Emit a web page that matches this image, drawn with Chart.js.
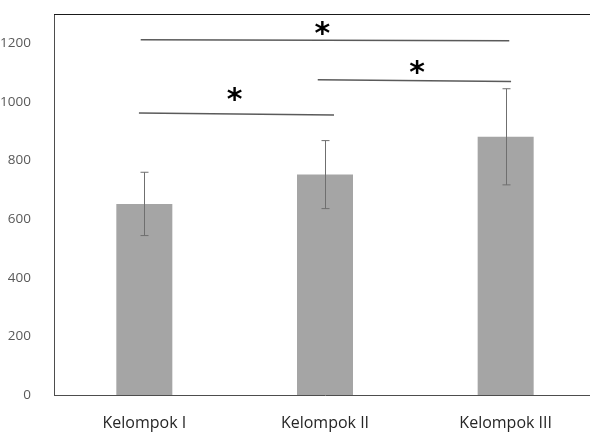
<!DOCTYPE html>
<html><head><meta charset="utf-8">
<script src="https://cdn.jsdelivr.net/npm/chart.js@4"></script>
<style>html,body{margin:0;padding:0;overflow:hidden;background:#fff;width:590px;height:432px}
#wrap{width:596px;height:432px;position:relative}</style>
</head><body><div id="wrap"><canvas id="c" width="596" height="432"></canvas></div>
<script>
const categories = ['Kelompok I', 'Kelompok II', 'Kelompok III'];
const means = [652, 752, 881];
const errors = [108, 116, 164];
const yTicks = [0, 200, 400, 600, 800, 1000, 1200];
// significance brackets: category index from/to, y value at start/end
const sigFrom = [-0.02, -0.03, 0.96];
const sigTo = [2.02, 1.05, 2.03];
const sigYFrom = [1212, 962, 1076];
const sigYTo = [1209, 955, 1070];
const starX = [0.985, 0.5, 1.51];
const starY = [1250, 1025, 1119];

const overlay = {
  id: 'overlay',
  afterDatasetsDraw(chart) {
    const ctx = chart.ctx, xs = chart.scales.x, ys = chart.scales.y, a = chart.chartArea;
    const p0 = xs.getPixelForValue(0), step = xs.getPixelForValue(1) - p0;
    const xf = f => p0 + f * step;
    ctx.save();
    // top border
    ctx.strokeStyle = '#1a1a1a'; ctx.lineWidth = 1;
    ctx.beginPath(); ctx.moveTo(a.left, Math.round(a.top) + 0.5); ctx.lineTo(a.right, Math.round(a.top) + 0.5); ctx.stroke();
    // error bars
    ctx.strokeStyle = '#6f6f6f'; ctx.lineWidth = 1;
    means.forEach((m, i) => {
      const x = Math.round(xs.getPixelForValue(i)) + 0.5;
      const yt = ys.getPixelForValue(m + errors[i]), yb = ys.getPixelForValue(m - errors[i]);
      ctx.beginPath();
      ctx.moveTo(x, yt); ctx.lineTo(x, yb);
      ctx.moveTo(x - 4, yt); ctx.lineTo(x + 4, yt);
      ctx.moveTo(x - 4, yb); ctx.lineTo(x + 4, yb);
      ctx.stroke();
    });
    // significance lines
    ctx.strokeStyle = '#5a5a5a'; ctx.lineWidth = 1.5;
    sigFrom.forEach((f, i) => {
      ctx.beginPath();
      ctx.moveTo(xf(f), ys.getPixelForValue(sigYFrom[i]));
      ctx.lineTo(xf(sigTo[i]), ys.getPixelForValue(sigYTo[i]));
      ctx.stroke();
    });
    // stars
    ctx.fillStyle = '#000';
    ctx.font = 'bold 30px "DejaVu Sans"';
    ctx.textAlign = 'center'; ctx.textBaseline = 'alphabetic';
    const mt = ctx.measureText('*');
    const off = (mt.actualBoundingBoxAscent - mt.actualBoundingBoxDescent) / 2;
    starX.forEach((f, i) => {
      ctx.fillText('*', xf(f), ys.getPixelForValue(starY[i]) + off);
    });
    ctx.restore();
  }
};

new Chart(document.getElementById('c'), {
  type: 'bar',
  data: {
    labels: categories,
    datasets: [{ data: means, backgroundColor: '#a5a5a5', borderWidth: 0, barPercentage: 0.31, categoryPercentage: 1 }]
  },
  options: {
    responsive: false, animation: false, devicePixelRatio: 1,
    layout: { padding: { top: 14, left: 0, right: 0, bottom: 0 } },
    plugins: { legend: { display: false }, tooltip: { enabled: false } },
    scales: {
      x: {
        grid: { display: false },
        border: { display: true, color: '#4d4d4d', width: 1 },
        ticks: { color: '#262626', font: { family: 'Open Sans', size: 16 }, padding: 11 },
        afterFit: s => { s.height = 37; s.paddingLeft = 0; s.paddingRight = 0; }
      },
      y: {
        min: 0, max: 1300,
        grid: { display: false },
        border: { display: true, color: '#4d4d4d', width: 1 },
        afterBuildTicks: s => { s.ticks = yTicks.map(v => ({ value: v })); },
        ticks: { color: '#595959', font: { family: 'Open Sans', size: 13.5 }, padding: 15, callback: v => String(v) },
        afterFit: s => { s.width = 54; s.paddingTop = 0; s.paddingBottom = 0; }
      }
    }
  },
  plugins: [overlay]
});
</script></body></html>
